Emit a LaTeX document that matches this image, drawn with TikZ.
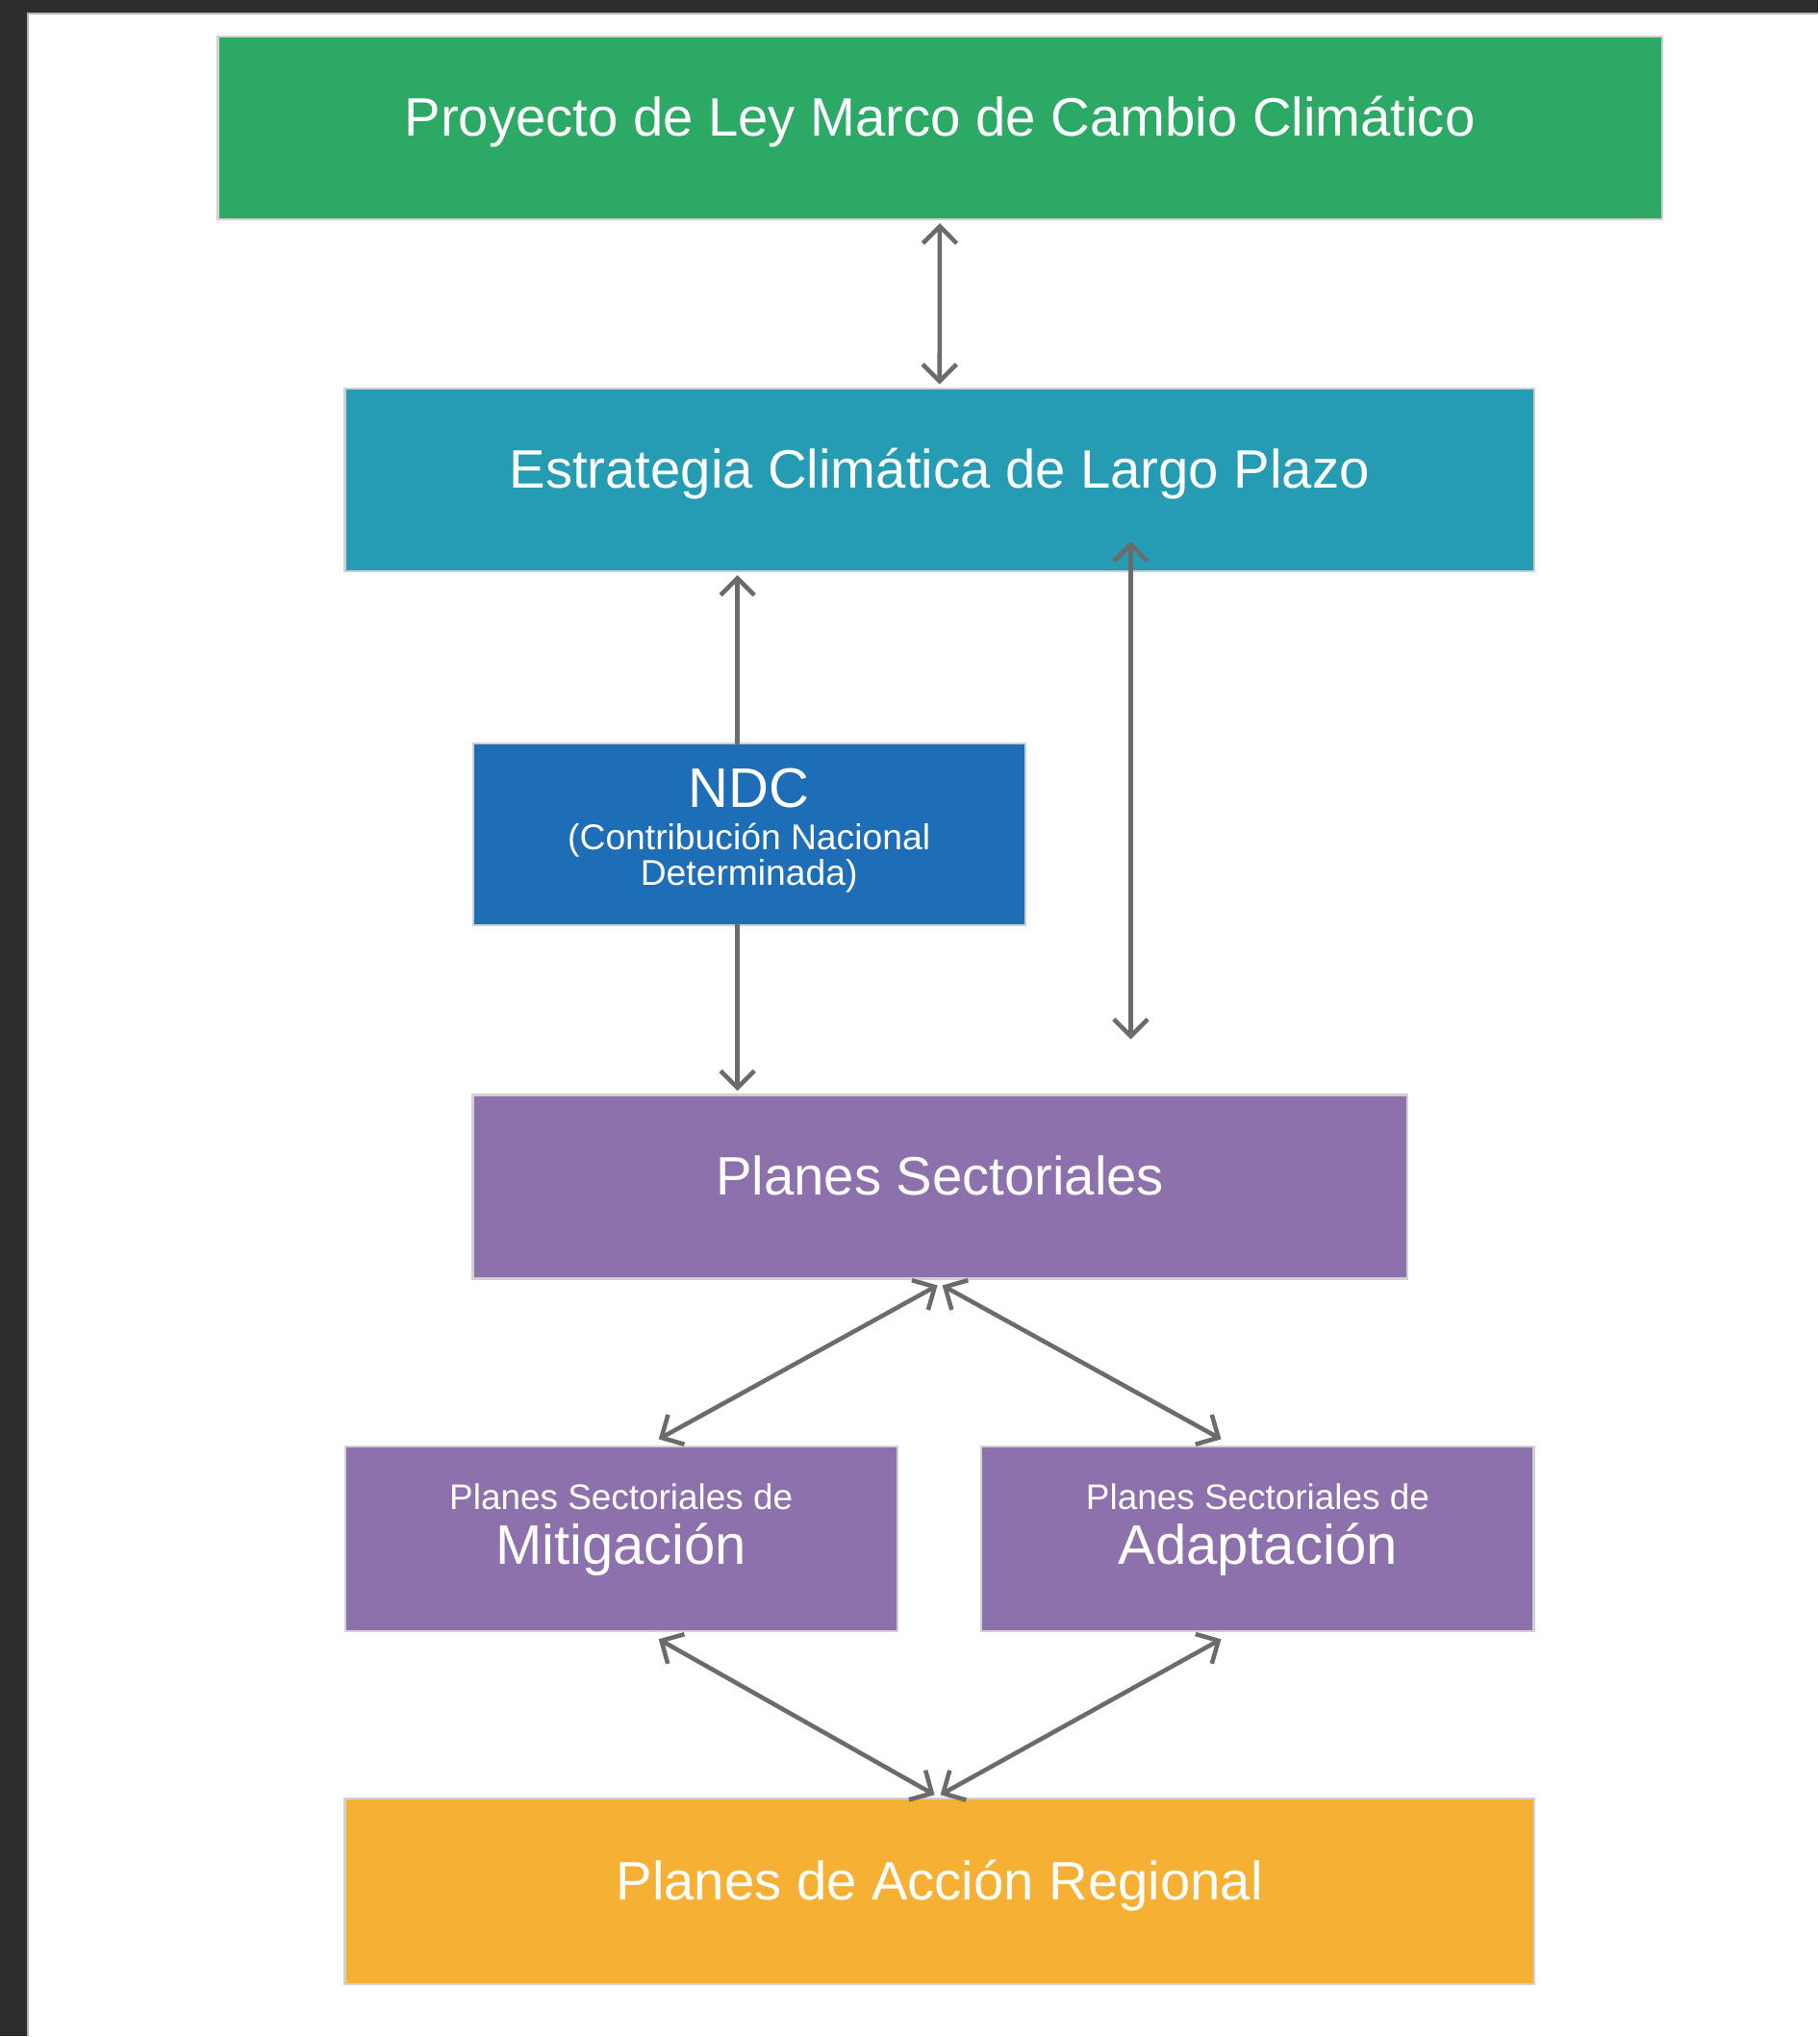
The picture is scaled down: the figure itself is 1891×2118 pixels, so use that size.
\documentclass[tikz,border=0pt]{standalone}
\usepackage{fontspec}
\setmainfont{Liberation Sans}
\usetikzlibrary{arrows.meta}

\definecolor{verde}{HTML}{2DA966}
\definecolor{turquesa}{HTML}{259CB3}
\definecolor{azul}{HTML}{1E6EB7}
\definecolor{morado}{HTML}{8C71AC}
\definecolor{naranja}{HTML}{F6B034}
\definecolor{gris}{HTML}{6B6B6B}
\definecolor{marco}{HTML}{2D2D2D}

\begin{document}
\begin{tikzpicture}[x=0.01cm, y=-0.01cm, >={Straight Barb[length=5pt,width=10pt]},
	caja/.style = {draw=black!18, line width=0.6pt, inner sep=0pt, outer sep=0pt, text=white, align=center, font=\fontsize{16}{19}\selectfont},
	una/.style = {text height=11pt, text depth=6.2pt},
	flecha/.style = {draw=gris, line width=1.3pt, line cap=round},]
		% fondo y marco
		\fill[white] (0,0) rectangle (1891,2118);
		\fill[marco] (0,0) rectangle (1891,14);
		\fill[marco] (0,0) rectangle (29,2118);
		\draw[black!30, line width=0.5pt] (29,2118) -- (29,14) -- (1891,14);
		
		\node[caja, una, fill=verde, minimum width=15.01cm, minimum height=1.90cm] (proyecto) at (977.5,133) {Proyecto de Ley Marco de Cambio Climático};
		\node[caja, una, fill=turquesa, minimum width=12.36cm, minimum height=1.90cm] (estrategia) at (977,499) {Estrategia Climática de Largo Plazo};
		\node[caja, fill=azul, minimum width=5.74cm, minimum height=1.89cm, font=\fontsize{10.6}{10.5}\selectfont, text depth=4pt] (ndc) at (779,867.5) {{\fontsize{16.5}{16}\selectfont NDC}\\[2pt] (Contribución Nacional\\ Determinada)};
		\node[caja, una, fill=morado, minimum width=9.71cm, minimum height=1.91cm] (sectoriales) at (977.5,1234.5) {Planes Sectoriales};
		\node[caja, fill=morado, minimum width=5.74cm, minimum height=1.92cm, font=\fontsize{16.5}{16.2}\selectfont, text depth=9pt] (mitigacion) at (646,1601) {{\fontsize{10.5}{12}\selectfont Planes Sectoriales de}\\ Mitigación};
		\node[caja, fill=morado, minimum width=5.74cm, minimum height=1.92cm, font=\fontsize{16.5}{16.2}\selectfont, text depth=9pt] (adaptacion) at (1308,1601) {{\fontsize{10.5}{12}\selectfont Planes Sectoriales de}\\ Adaptación};
		\node[caja, una, fill=naranja, minimum width=12.36cm, minimum height=1.93cm] (regional) at (977,1967.5) {Planes de Acción Regional};
		
		\coordinate (eje) at (767,0);
		\coordinate (arriba) at (1176,563);
		\coordinate (abajo) at (1176,1081);
		\coordinate (s1) at (975,1337);
		\coordinate (s2) at (980,1337);
		\coordinate (m1) at (685,1497);
		\coordinate (m2) at (685,1705);
		\coordinate (a1) at (1270,1497);
		\coordinate (a2) at (1270,1705);
		\coordinate (r1) at (972,1867);
		\coordinate (r2) at (978,1867);
		
		\draw[flecha, <->, shorten <=1.2pt, shorten >=1.2pt] (proyecto) -- (estrategia);
		\draw[flecha, ->, shorten >=1.2pt] (ndc.north -| eje) -- (estrategia.south -| eje);
		\draw[flecha, ->, shorten >=1.2pt] (ndc.south -| eje) -- (sectoriales.north -| eje);
		\draw[flecha, <->] (arriba) -- (abajo);
		\draw[flecha, <->] (s1) -- (m1);
		\draw[flecha, <->] (s2) -- (a1);
		\draw[flecha, <->] (m2) -- (r1);
		\draw[flecha, <->] (a2) -- (r2);
	\end{tikzpicture}
\end{document}
